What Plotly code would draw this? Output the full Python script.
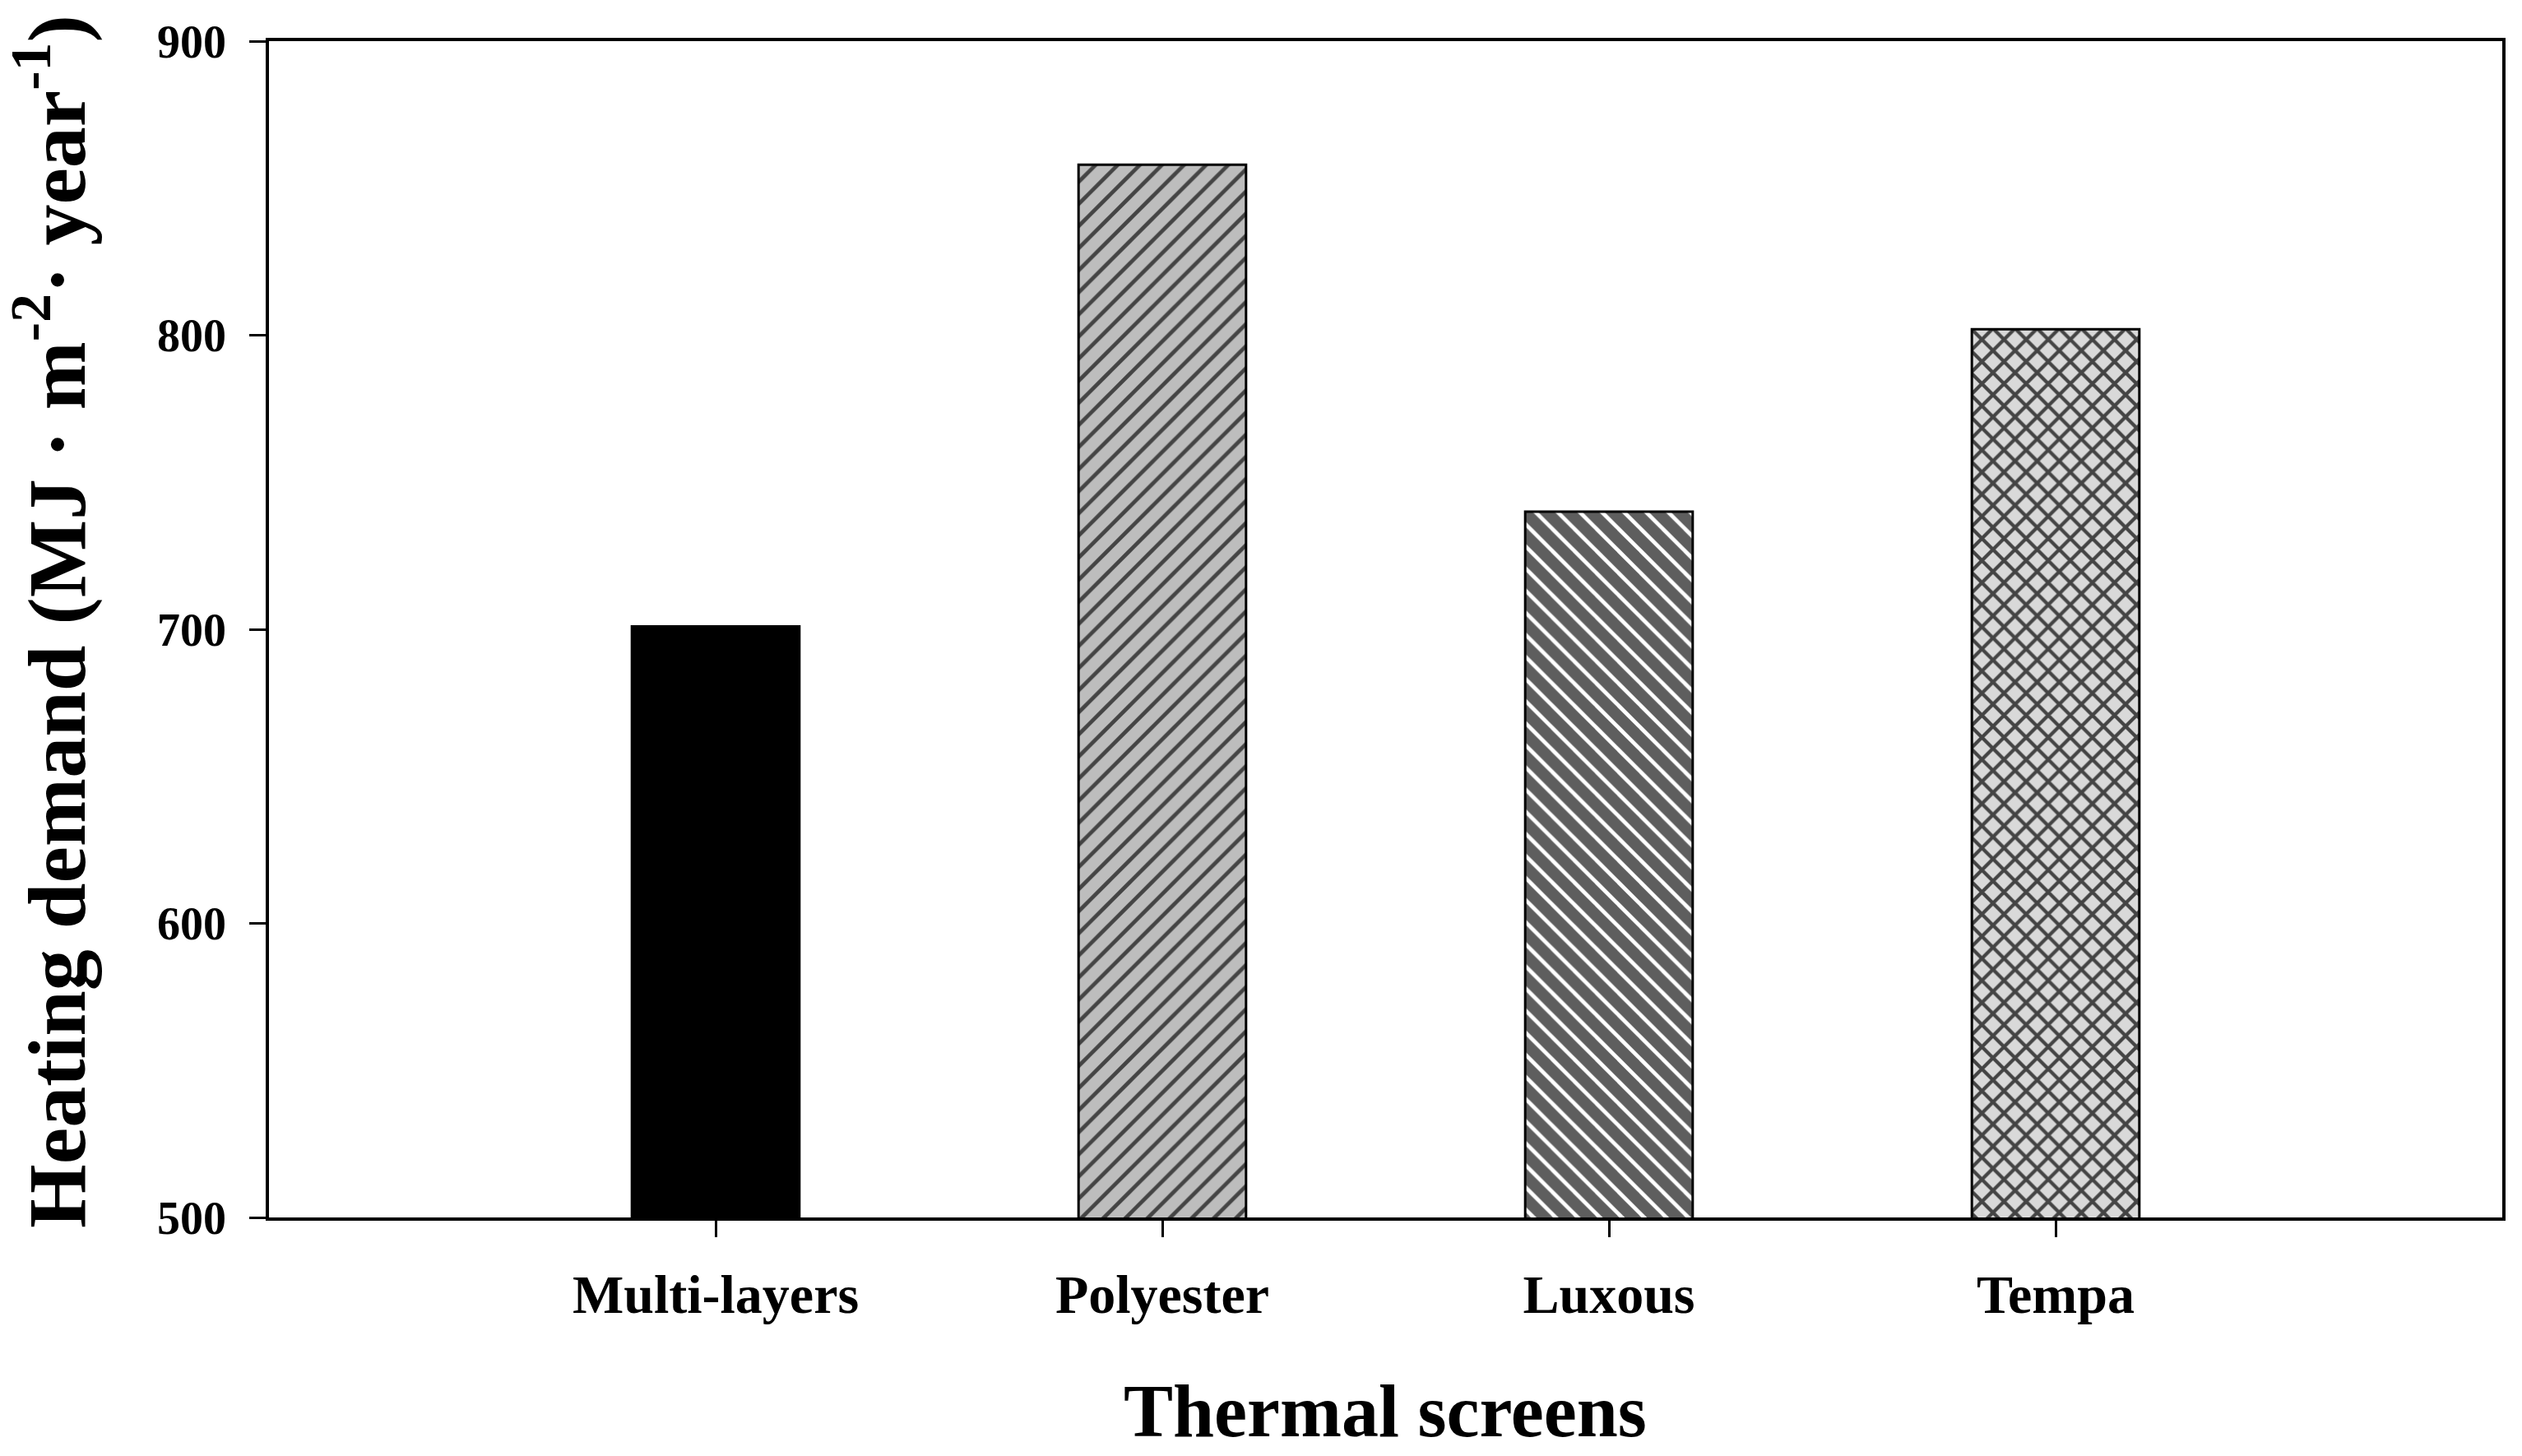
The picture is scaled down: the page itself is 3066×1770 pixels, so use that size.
import plotly.graph_objects as go

categories = ["Multi-layers", "Polyester", "Luxous", "Tempa"]
heating_demand = [701, 858, 740, 802]
bar_colors = ["#000000", "#bdbdbd", "#5e5e5e", "#d9d9d9"]
pattern_shapes = ["", "/", "\\", "x"]
y_ticks = [500, 600, 700, 800, 900]

FONT = "Liberation Serif, Times New Roman, serif"

fig = go.Figure()
fig.add_trace(go.Bar(
    x=categories,
    y=heating_demand,
    width=0.375,
    marker=dict(
        color=bar_colors,
        line=dict(color="black", width=3),
        pattern=dict(
            shape=pattern_shapes,
            fgcolor="black",
            fgopacity=1,
            size=19,
            solidity=[0.3, 0.25, 0.25, 0.4],
            fillmode="overlay",
        ),
    ),
    showlegend=False,
))

W, H = 3066, 1770
ml, mr, mt, mb = 327, 24, 50, 290

fig.update_layout(
    width=W, height=H,
    margin=dict(l=ml, r=mr, t=mt, b=mb, pad=0),
    paper_bgcolor="white",
    plot_bgcolor="white",
    font=dict(family=FONT, color="black"),
)

fig.update_xaxes(
    range=[-1, 4],
    showline=True, linecolor="black", linewidth=3.5, mirror=True,
    ticks="outside", ticklen=20, tickwidth=2.5, tickcolor="black",
    tickfont=dict(family=FONT, size=66, weight="bold", color="black"),
    ticklabelstandoff=13,
    showgrid=False, zeroline=False,
)
fig.update_yaxes(
    range=[500, 900],
    tickvals=y_ticks,
    ticktext=[str(v) for v in y_ticks],
    showline=True, linecolor="black", linewidth=3.5, mirror=True,
    ticks="outside", ticklen=20, tickwidth=2.5, tickcolor="black",
    tickfont=dict(family=FONT, size=56, weight="bold", color="black"),
    ticklabelstandoff=17,
    showgrid=False, zeroline=False,
)

pw = W - ml - mr
ph = H - mt - mb


def px_x(page_x):
    return (page_x - ml) / pw


def px_y(page_y):
    return (H - mb - page_y) / ph


fig.add_annotation(
    text="Thermal screens",
    xref="paper", yref="paper",
    x=px_x(1684), y=px_y(1716),
    xanchor="center", yanchor="middle",
    showarrow=False,
    font=dict(family=FONT, size=90, weight="bold", color="black"),
)
fig.add_annotation(
    text="Heating demand (MJ · m<sup>-2</sup>· year<sup>-1</sup>)",
    xref="paper", yref="paper",
    x=px_x(62), y=px_y(756),
    xanchor="center", yanchor="middle",
    textangle=-90,
    showarrow=False,
    font=dict(family=FONT, size=100, weight="bold", color="black"),
)

fig.write_html(
    "out.html",
    config={"displayModeBar": False},
    post_script="document.body.style.margin='0';document.body.style.overflow='hidden';",
)
